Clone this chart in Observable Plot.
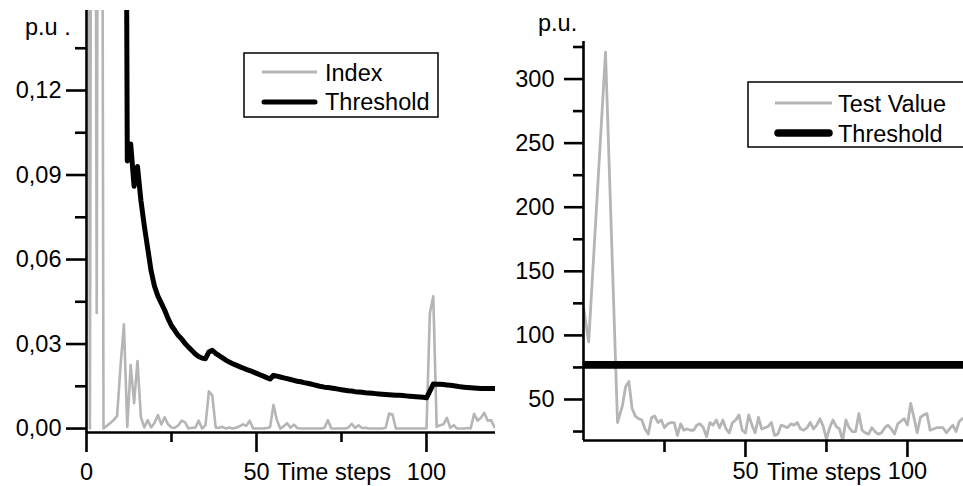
<!DOCTYPE html>
<html><head><meta charset="utf-8">
<script src="https://cdn.jsdelivr.net/npm/d3@7"></script>
<script src="https://cdn.jsdelivr.net/npm/@observablehq/plot@0.6"></script>
<style>
html,body{margin:0;padding:0;background:#fff;}
#wrap{position:relative;width:963px;height:486px;overflow:hidden;}
#wrap svg{position:absolute;top:0;}
</style></head><body><div id="wrap"></div>
<script>
// ---------- Left panel data (time step = array index) ----------
const leftIndex = [
 0.6, 0, 0.6, 0.041, 0.6, 0, 0.001, 0.002, 0.003, 0.0045,
 0.022, 0.037, 0.0006, 0.0225, 0.009, 0.024, 0.004, 0.0004, 0.003, 0.0004,
 0.002, 0.0048, 0.0015, 0.004, 0.0015, 0.0004, 0.0003, 0.0012, 0.0028, 0.0022,
 0, 0.0003, 0.0003, 0.0028, 0, 0.0012, 0.0132, 0.0118, 0.0003, 0.0003,
 0.0006, 0, 0.0004, 0, 0.0003, 0.0008, 0.0015, 0.001, 0.0028, 0,
 0, 0, 0, 0.0002, 0.0005, 0.0084, 0.003, 0, 0.0008, 0.0019,
 0.0003, 0.0014, 0.0002, 0, 0, 0, 0, 0, 0, 0,
 0.0003, 0.003, 0, 0, 0, 0, 0, 0.0003, 0.0017, 0.0002,
 0.0012, 0.0002, 0.0003, 0, 0, 0, 0, 0, 0.0003, 0.0053,
 0.005, 0, 0, 0, 0, 0, 0, 0, 0, 0,
 0, 0.041, 0.047, 0.0006, 0.0012, 0.0015, 0.0038, 0.0003, 0.0012, 0,
 0, 0, 0.0002, 0, 0.0052, 0.0028, 0.0038, 0.0056, 0.0028, 0.003,
 0.0005
];
const leftThresholdStart = 11;
const leftThreshold = [
 0.4, 0.095, 0.101, 0.086, 0.093, 0.081, 0.072, 0.064, 0.056, 0.0505,
 0.047, 0.0445, 0.042, 0.039, 0.0365, 0.0348, 0.033, 0.0318, 0.0302, 0.0289,
 0.0277, 0.0265, 0.0256, 0.025, 0.0248, 0.0272, 0.0278, 0.0267, 0.0259, 0.0251,
 0.0243, 0.0236, 0.023, 0.0225, 0.022, 0.0215, 0.021, 0.0206, 0.0201, 0.0196,
 0.0191, 0.0186, 0.0181, 0.0176, 0.0189, 0.0186, 0.0183, 0.018, 0.0177, 0.0174,
 0.0171, 0.0168, 0.0166, 0.0163, 0.0161, 0.0158, 0.0155, 0.0152, 0.0149, 0.0147,
 0.0146, 0.0144, 0.0142, 0.014, 0.0138, 0.0136, 0.0134, 0.0133, 0.0131, 0.013,
 0.0129, 0.0127, 0.0126, 0.0125, 0.0124, 0.0123, 0.0122, 0.0121, 0.012, 0.0119,
 0.0118, 0.0118, 0.0117, 0.0116, 0.0115, 0.0114, 0.0113, 0.0112, 0.0111, 0.0109,
 0.0133, 0.0158, 0.0157, 0.0157, 0.0156, 0.0155, 0.0154, 0.0152, 0.015, 0.0148,
 0.0147, 0.0146, 0.0145, 0.0144, 0.0143, 0.0142, 0.0142, 0.0142, 0.0142, 0.0142
];
const leftXDomain = [0, 120.3];
const leftYDomain = [-0.0014, 0.1484];
const leftYMajor = [0, 0.03, 0.06, 0.09, 0.12];
const leftYMinor = [0.015, 0.045, 0.075, 0.105, 0.135];
const leftXMajor = [0, 50, 100];
const leftXMinor = [25, 75];
const leftLegend = ["Index", "Threshold"];

// ---------- Right panel data ----------
const rightTestTime = [0, 1.6, 6.8, 10.5,
 12, 13, 14, 15, 16, 17, 18, 19, 20, 21, 22, 23, 24, 25, 26, 27, 28, 29,
 30, 31, 32, 33, 34, 35, 36, 37, 38, 39, 40, 41, 42, 43, 44, 45, 46, 47, 48, 49,
 50, 51, 52, 53, 54, 55, 56, 57, 58, 59, 60, 61, 62, 63, 64, 65, 66, 67, 68, 69,
 70, 71, 72, 73, 74, 75, 76, 77, 78, 79, 80, 81, 82, 83, 84, 85, 86, 87, 88, 89,
 90, 91, 92, 93, 94, 95, 96, 97, 98, 99, 100, 101, 102, 103, 104, 105, 106, 107, 108, 109,
 110, 111, 112, 113, 114, 115, 116, 117];
const rightTestValue = [122, 95, 321, 32,
 45, 60, 64, 43, 37, 35, 34, 27, 23, 36, 37, 32, 34, 28, 31, 32, 32, 22,
 31, 26, 27, 26, 26, 30, 31, 28, 21, 32, 30, 34, 28, 34, 27, 24, 32, 34, 38, 26,
 24, 38, 30, 24, 36, 27, 28, 29, 32, 22, 23, 30, 29, 28, 31, 30, 32, 27, 26, 28,
 32, 27, 30, 35, 29, 19, 28, 34, 29, 27, 18, 34, 28, 25, 25, 39, 26, 24, 23, 28,
 25, 23, 24, 28, 30, 27, 23, 31, 33, 35, 30, 47, 36, 24, 36, 38, 39, 26, 27, 28,
 28, 28, 24, 27, 30, 25, 33, 35];
const rightThreshold = 77;
const rightXDomain = [0, 117.3];
const rightYDomain = [18, 329.3];
const rightYMajor = [50, 100, 150, 200, 250, 300];
const rightYMinor = [25, 75, 125, 175, 225, 275, 325];
const rightXMajor = [50, 100];
const rightXMinor = [25, 75];
const rightLegend = ["Test Value", "Threshold"];

const yUnitLeft = "p.u .";
const yUnitRight = "p.u.";
const xTitle = "Time steps";

// ---------- styling ----------
const FONT = "'Liberation Sans', Arial, sans-serif";
const FS = "23.5px";
const GRAY = "#b5b5b5";
const AX = 2.6;

const indexData = leftIndex.map((v, i) => ({t: i, v}));
const thrData = leftThreshold.map((v, i) => ({t: i + leftThresholdStart, v}));
const testData = rightTestValue.map((v, i) => ({t: rightTestTime[i], v}));
const comma2 = d => d3.format(".2f")(d).replace(".", ",");
const blank = () => "";

const left = Plot.plot({
  width: 500, height: 486,
  marginLeft: 86, marginRight: 5, marginTop: 10, marginBottom: 54,
  x: {domain: leftXDomain},
  y: {domain: leftYDomain},
  style: {fontFamily: FONT, fontSize: FS, background: "transparent", color: "#000", overflow: "visible"},
  marks: [
    Plot.line(indexData, {x: "t", y: "v", stroke: GRAY, strokeWidth: 2.6, clip: true}),
    Plot.line(thrData, {x: "t", y: "v", stroke: "#000", strokeWidth: 5, clip: true}),
    Plot.ruleX([leftXDomain[0]], {strokeWidth: AX}),
    Plot.ruleY([leftYDomain[0]], {strokeWidth: AX}),
    Plot.axisY({ticks: leftYMajor, tickSize: 20, tickPadding: 5, tickFormat: comma2, strokeWidth: AX, label: null}),
    Plot.axisY({ticks: leftYMinor, tickSize: 11, tickFormat: blank, strokeWidth: AX, label: null}),
    Plot.axisX({ticks: leftXMajor, tickSize: 20, tickPadding: 11, tickFormat: d => String(d), strokeWidth: AX, label: null}),
    Plot.axisX({ticks: leftXMinor, tickSize: 10, tickFormat: blank, strokeWidth: AX, label: null})
  ]
});
left.style.left = "0px";

const right = Plot.plot({
  width: 468, height: 486,
  marginLeft: 88, marginRight: 0, marginTop: 41, marginBottom: 46,
  x: {domain: rightXDomain},
  y: {domain: rightYDomain},
  style: {fontFamily: FONT, fontSize: FS, background: "transparent", color: "#000", overflow: "visible"},
  marks: [
    Plot.line(testData, {x: "t", y: "v", stroke: GRAY, strokeWidth: 2.8, clip: true}),
    Plot.ruleY([rightThreshold], {stroke: "#000", strokeWidth: 7.7}),
    Plot.ruleX([rightXDomain[0]], {strokeWidth: AX}),
    Plot.ruleY([rightYDomain[0]], {strokeWidth: AX}),
    Plot.axisY({ticks: rightYMajor, tickSize: 19, tickPadding: 10, tickFormat: d => String(d), strokeWidth: AX, label: null}),
    Plot.axisY({ticks: rightYMinor, tickSize: 10, tickFormat: blank, strokeWidth: AX, label: null}),
    Plot.axisX({ticks: rightXMajor, tickSize: 17, tickPadding: 5, tickFormat: d => String(d), strokeWidth: AX, label: null}),
    Plot.axisX({ticks: rightXMinor, tickSize: 12, tickFormat: blank, strokeWidth: AX, label: null})
  ]
});
right.style.left = "495px";

const wrap = document.getElementById("wrap");
wrap.appendChild(left);
wrap.appendChild(right);

// ---------- overlay: axis titles and legends ----------
const ns = "http://www.w3.org/2000/svg";
const ov = document.createElementNS(ns, "svg");
ov.setAttribute("width", 963); ov.setAttribute("height", 486);
ov.style.left = "0px";
ov.setAttribute("font-family", "Liberation Sans, Arial, sans-serif");
ov.setAttribute("font-size", "23.5");
function el(tag, attrs, txt) {
  const e = document.createElementNS(ns, tag);
  for (const k in attrs) e.setAttribute(k, attrs[k]);
  if (txt != null) e.textContent = txt;
  ov.appendChild(e);
  return e;
}
el("text", {x: 25, y: 35}, yUnitLeft);
el("text", {x: 538, y: 31}, yUnitRight);
el("text", {x: 277, y: 480}, xTitle);
el("text", {x: 767, y: 480}, xTitle);
// left legend
el("rect", {x: 244, y: 53, width: 194, height: 64, fill: "#fff", stroke: "#000", "stroke-width": 1.5});
el("line", {x1: 262, x2: 317, y1: 72, y2: 72, stroke: GRAY, "stroke-width": 3});
el("line", {x1: 264, x2: 315, y1: 102, y2: 102, stroke: "#000", "stroke-width": 5, "stroke-linecap": "round"});
el("text", {x: 325, y: 81}, leftLegend[0]);
el("text", {x: 325, y: 110}, leftLegend[1]);
// right legend
el("rect", {x: 748, y: 82, width: 260, height: 65, fill: "#fff", stroke: "#000", "stroke-width": 1.5});
el("line", {x1: 775, x2: 832, y1: 103, y2: 103, stroke: GRAY, "stroke-width": 3});
el("line", {x1: 778, x2: 829, y1: 133, y2: 133, stroke: "#000", "stroke-width": 7.5, "stroke-linecap": "round"});
el("text", {x: 838, y: 111.5}, rightLegend[0]);
el("text", {x: 838, y: 141.5}, rightLegend[1]);
wrap.appendChild(ov);
</script>
</body></html>
